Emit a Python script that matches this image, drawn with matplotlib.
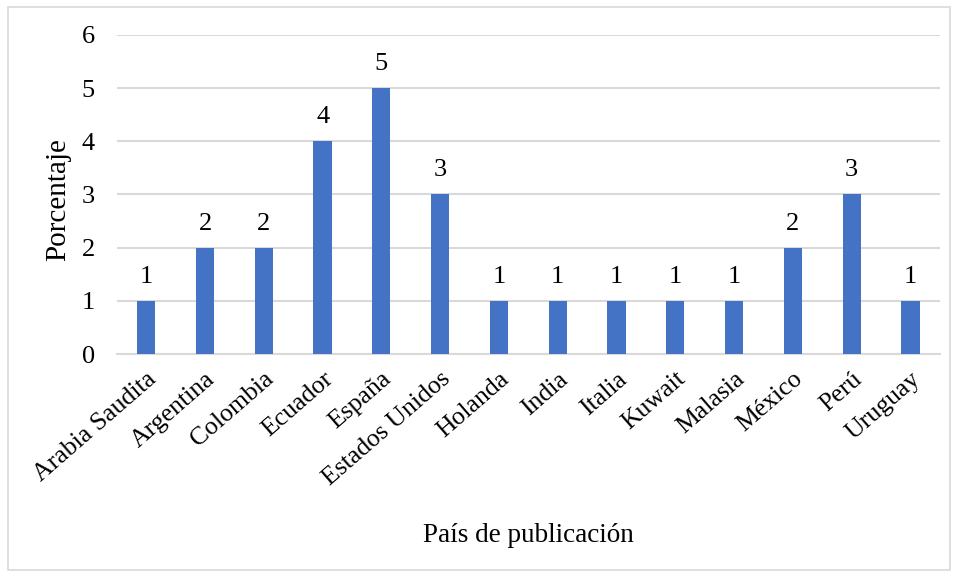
import numpy as np
import matplotlib
matplotlib.use('Agg')
import matplotlib.pyplot as plt
from matplotlib.patches import Rectangle

paises = ['Arabia Saudita', 'Argentina', 'Colombia', 'Ecuador', 'España',
          'Estados Unidos', 'Holanda', 'India', 'Italia', 'Kuwait',
          'Malasia', 'México', 'Perú', 'Uruguay']
valores = [1, 2, 2, 4, 5, 3, 1, 1, 1, 1, 1, 2, 3, 1]
yticks = [0, 1, 2, 3, 4, 5, 6]

plt.rcParams['font.family'] = ['Liberation Serif', 'DejaVu Serif']

fig = plt.figure(figsize=(9.58, 5.78), dpi=100)
ax = fig.add_axes([0.122, 0.3875, 0.859, 0.552])

# borde gris alrededor de la figura
fig.patches.append(Rectangle((8 / 958, 8 / 578), 942 / 958, 563 / 578,
                             transform=fig.transFigure, fill=False,
                             edgecolor='#D9D9D9', linewidth=1.2))

x = np.arange(len(paises))
ax.bar(x, valores, width=0.31, color='#4472C4', zorder=3)
for xi, v in zip(x, valores):
    ax.annotate(str(v), (xi, v), xytext=(0, 13), textcoords='offset points',
                ha='center', va='baseline', fontsize=19)

ax.set_xlim(-0.5, len(paises) - 0.5)
ax.set_ylim(0, 6)
ax.set_yticks(yticks)
ax.set_yticklabels([str(t) for t in yticks], fontsize=19)
ax.set_xticks(x)
ax.set_xticklabels(paises, rotation=41, ha='right', rotation_mode='anchor', fontsize=18.5)
ax.tick_params(length=0)
ax.tick_params(axis='x', pad=10)
ax.tick_params(axis='y', pad=16)
ax.grid(axis='y', color='#D9D9D9', linewidth=1.5, zorder=0)
for s in ['top', 'right', 'left']:
    ax.spines[s].set_visible(False)
ax.spines['bottom'].set_color('#D9D9D9')
ax.spines['bottom'].set_linewidth(1.5)

fig.text(58 / 958, 1 - 200 / 578, 'Porcentaje', rotation=90, ha='center', va='center', fontsize=21)
fig.text(528 / 958, 1 - 535 / 578, 'País de publicación', ha='center', va='center', fontsize=19.5)

fig.savefig('out.png', dpi=100)
